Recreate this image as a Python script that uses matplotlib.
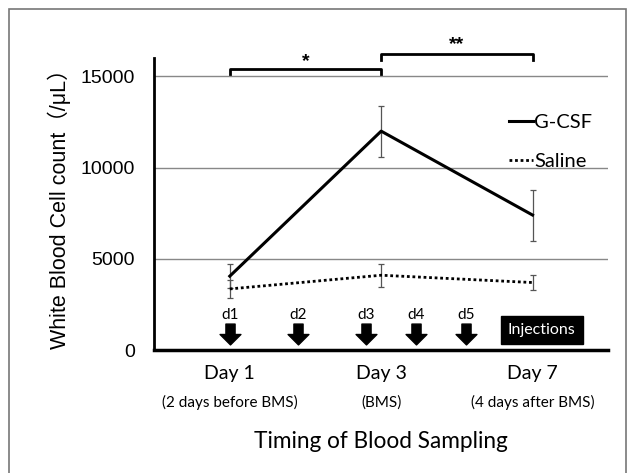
"""White blood cell count after G-CSF / saline injections"""

import matplotlib
matplotlib.use("Agg")
import matplotlib.pyplot as plt
from matplotlib.patches import Rectangle
from matplotlib.lines import Line2D
from matplotlib.path import Path

# data
days = ["Day 1", "Day 3", "Day 7"]
day_notes = ["(2 days before BMS)", "(BMS)", "(4 days after BMS)"]
gcsf = [4050, 12000, 7400]
gcsf_err = [650, 1400, 1400]
saline = [3350, 4100, 3700]
saline_err = [500, 620, 420]
inj_labels = ["d1", "d2", "d3", "d4", "d5"]
inj_x = [0.0, 0.45, 0.9, 1.23, 1.56]
yticks = [0, 5000, 10000, 15000]

body_font = ["Lato", "DejaVu Sans"]
label_font = ["Liberation Sans", "Noto Sans CJK JP", "DejaVu Sans"]

# down arrow marker (shape only)
arrow_marker = Path([(-0.22, 0.5), (0.22, 0.5), (0.22, 0.0), (0.5, 0.0), (0.0, -0.5),
                     (-0.5, 0.0), (-0.22, 0.0), (-0.22, 0.5)], closed=True)

fig = plt.figure(figsize=(6.29, 4.73), dpi=100)
ax = fig.add_axes([0.245, 0.26, 0.722, 0.617])

x = list(range(len(days)))
ax.errorbar(x, gcsf, yerr=gcsf_err, color="black", lw=2.2, ecolor="#555555",
            elinewidth=0.9, capsize=2.5, capthick=0.9, zorder=3)
ax.errorbar(x, saline, yerr=saline_err, color="black", lw=2, ls=(0, (1, 1)),
            ecolor="#555555", elinewidth=0.9, capsize=2.5, capthick=0.9, zorder=3)

ax.set_xlim(-0.5, 2.5)
ax.set_ylim(0, 16000)
ax.set_yticks(yticks)
ax.set_yticklabels([str(v) for v in yticks], family=label_font, fontsize=14)
ax.tick_params(axis="y", length=0, pad=14)
ax.set_xticks([])
ax.yaxis.grid(True, color="#888888", lw=1)
ax.set_axisbelow(True)
for s in ["top", "right"]:
    ax.spines[s].set_visible(False)
ax.spines["left"].set_linewidth(2)
ax.spines["bottom"].set_linewidth(2.5)

ax.set_ylabel("White Blood Cell count（/μL）", family=label_font, fontsize=15.5,
              labelpad=7)

# day labels under the axis
trans = ax.get_xaxis_transform()
for i, (d, n) in enumerate(zip(days, day_notes)):
    ax.text(i, -0.082, d, transform=trans, ha="center", va="center",
            family=body_font, fontsize=14)
    ax.text(i, -0.18, n, transform=trans, ha="center", va="center",
            family=body_font, fontsize=11)
ax.text(1, -0.315, "Timing of Blood Sampling", transform=trans, ha="center",
        va="center", family=body_font, fontsize=16.3)

# injection arrows
for lab, xi in zip(inj_labels, inj_x):
    ax.plot([xi], [880], marker=arrow_marker, markersize=15, color="black", lw=0)
    ax.text(xi, 1930, lab, ha="center", va="center", family=body_font,
            fontsize=11)
ax.text(2.06, 1095, "Injections", ha="center", va="center", color="white",
        family=body_font, fontsize=11.5,
        bbox=dict(boxstyle="square,pad=0.45", fc="black", ec="black"))

# significance brackets
ax.plot([0, 0, 1, 1], [15150, 15420, 15420, 15150], color="black", lw=2,
        clip_on=False)
ax.text(0.5, 15800, "*", ha="center", va="center", fontsize=14,
        family=label_font, fontweight="bold")
ax.plot([1, 1, 2, 2], [15900, 16240, 16240, 15900], color="black", lw=2,
        clip_on=False)
ax.text(1.5, 16750, "**", ha="center", va="center", fontsize=14,
        family=label_font, fontweight="bold")

handles = [Line2D([], [], color="black", lw=2.2),
           Line2D([], [], color="black", lw=2, ls=(0, (1, 1)))]
ax.legend(handles, ["G-CSF", "Saline"], loc="upper right",
          bbox_to_anchor=(1.005, 0.87), frameon=False,
          handlelength=1.2, handletextpad=0.05, labelspacing=1.05,
          prop=dict(family=body_font, size=14.5))

# outer frame
fig.patches.append(Rectangle((0.014, -0.01), 0.981, 0.99, transform=fig.transFigure,
                             fill=False, ec="#777777", lw=1.2))

fig.savefig("out.png", dpi=100)
